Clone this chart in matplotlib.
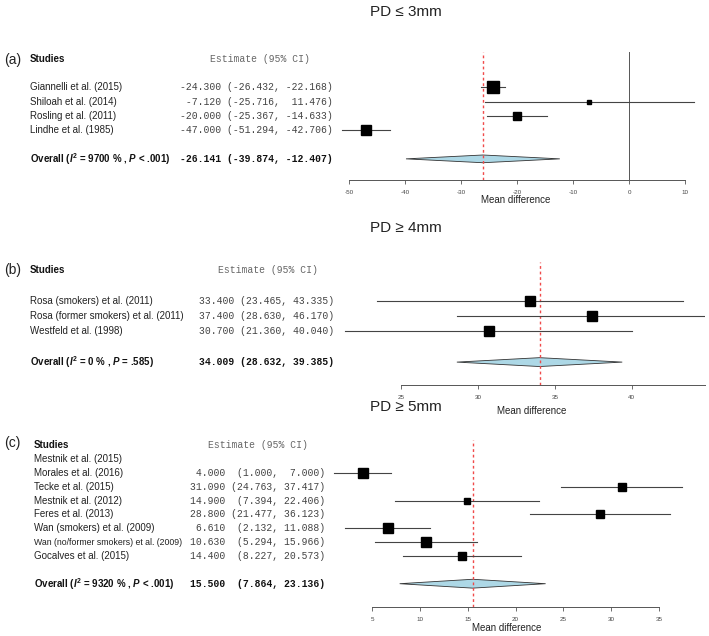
import matplotlib
matplotlib.use("Agg")
import matplotlib.pyplot as plt
import matplotlib.transforms as mtransforms

plt.rcParams['font.family'] = ['Liberation Sans', 'DejaVu Sans']
plt.rcParams['axes.unicode_minus'] = False
plt.rcParams['mathtext.fontset'] = 'custom'
plt.rcParams['mathtext.rm'] = 'Liberation Sans:bold'
plt.rcParams['mathtext.it'] = 'Liberation Sans:italic:bold'
plt.rcParams['mathtext.bf'] = 'Liberation Sans:bold'

# ---- data ----
titles = ["PD \u2264 3mm", "PD \u2265 4mm", "PD \u2265 5mm"]
tags = ["(a)", "(b)", "(c)"]

# (a) PD <= 3mm
studies_a = ["Giannelli et al. (2015)", "Shiloah et al. (2014)",
             "Rosling et al. (2011)", "Lindhe et al. (1985)"]
est_a = [-24.300, -7.120, -20.000, -47.000]
lo_a = [-26.432, -25.716, -25.367, -51.294]
hi_a = [-22.168, 11.476, -14.633, -42.706]
overall_a = [-26.141, -39.874, -12.407]
stats_a = "Overall ($I^2$ = 9700 % , $P$ < .001)"
ticks_a = [-50, -40, -30, -20, -10, 0, 10]

# (b) PD >= 4mm
studies_b = ["Rosa (smokers) et al. (2011)", "Rosa (former smokers) et al. (2011)",
             "Westfeld et al. (1998)"]
est_b = [33.400, 37.400, 30.700]
lo_b = [23.465, 28.630, 21.360]
hi_b = [43.335, 46.170, 40.040]
overall_b = [34.009, 28.632, 39.385]
stats_b = "Overall ($I^2$ = 0 % , $P$ = .585)"
ticks_b = [25, 30, 35, 40]

# (c) PD >= 5mm
studies_c = ["Mestnik et al. (2015)", "Morales et al. (2016)", "Tecke et al. (2015)",
             "Mestnik et al. (2012)", "Feres et al. (2013)", "Wan (smokers) et al. (2009)",
             "Wan (no/former smokers) et al. (2009)", "Gocalves et al. (2015)"]
est_c = [None, 4.000, 31.090, 14.900, 28.800, 6.610, 10.630, 14.400]
lo_c = [None, 1.000, 24.763, 7.394, 21.477, 2.132, 5.294, 8.227]
hi_c = [None, 7.000, 37.417, 22.406, 36.123, 11.088, 15.966, 20.573]
overall_c = [15.500, 7.864, 23.136]
stats_c = "Overall ($I^2$ = 9320 % , $P$ < .001)"
ticks_c = [5, 10, 15, 20, 25, 30, 35]

# ---- styling (pixel layout, square sizes) ----
W, H = 709, 636
sq_a = [8.1, 2.9, 5.8, 7.2]
sq_b = [6.7, 7.2, 6.9]
sq_c = [0, 7.9, 6.0, 5.0, 5.3, 7.2, 6.7, 5.3]
# the long label is squeezed in the original
name_size = {"Wan (no/former smokers) et al. (2009)": 6.3}

panels = [
    dict(studies=studies_a, est=est_a, lo=lo_a, hi=hi_a, overall=overall_a, stats=stats_a,
         ticks=ticks_a, sq=sq_a, tick_px=(349.3, 685.3), axis_end=10,
         row1=130.2, dy=14.33, ylim=(-2.5, 6.45), header=6, name_x=30,
         est_right=333, head_right=310, title_y=12, tag_y=60, xlab=(516, 200), dh=0.27),
    dict(studies=studies_b, est=est_b, lo=lo_b, hi=hi_b, overall=overall_b, stats=stats_b,
         ticks=ticks_b, sq=sq_b, tick_px=(401.0, 631.7), axis_end=45,
         row1=331.5, dy=15.3, ylim=(-2.5, 5.54), header=5, name_x=30,
         est_right=334, head_right=318, title_y=228, tag_y=270, xlab=(532, 411), dh=0.29),
    dict(studies=studies_c, est=est_c, lo=lo_c, hi=hi_c, overall=overall_c, stats=stats_c,
         ticks=ticks_c, sq=sq_c, tick_px=(372.3, 659.0), axis_end=35,
         row1=556, dy=13.85, ylim=(-2.68, 9.38), header=9, name_x=34,
         est_right=325, head_right=308, title_y=407, tag_y=443, xlab=(507, 628), dh=0.32),
]


def fmt_rows(est, lo, hi):
    e = ["" if v is None else f"{v:.3f}" for v in est]
    l = ["" if v is None else f"({v:.3f}," for v in lo]
    h = ["" if v is None else f"{v:.3f})" for v in hi]
    we, wl, wh = max(map(len, e)), max(map(len, l)), max(map(len, h))
    out = []
    for a, b, c in zip(e, l, h):
        out.append("" if a == "" else f"{a:>{we}} {b:>{wl}} {c:>{wh}}")
    return out


fig = plt.figure(figsize=(W / 100, H / 100), dpi=100)
ax_px = (330, 705)
mono = 'Liberation Mono'

for i, p in enumerate(panels):
    t0, t1 = p['ticks'][0], p['ticks'][-1]
    slope = (p['tick_px'][1] - p['tick_px'][0]) / (t1 - t0)
    xlim = (t0 + (ax_px[0] - p['tick_px'][0]) / slope, t0 + (ax_px[1] - p['tick_px'][0]) / slope)
    y0, y1 = p['ylim']
    bot_py = p['row1'] + (1 - y0) * p['dy']
    top_py = p['row1'] - (y1 - 1) * p['dy']
    ax = fig.add_axes([ax_px[0] / W, 1 - bot_py / H, (ax_px[1] - ax_px[0]) / W, (bot_py - top_py) / H])
    ax.set_facecolor('none')
    ax.set_xlim(xlim)
    ax.set_ylim(y0, y1)

    k = len(p['studies'])
    rows = list(range(k, 0, -1))
    labels = fmt_rows(p['est'] + [p['overall'][0]], p['lo'] + [p['overall'][1]],
                      p['hi'] + [p['overall'][2]])

    # reference lines
    if xlim[0] < 0 < xlim[1]:
        ax.axvline(0, color='#555555', lw=0.7)
    ax.axvline(p['overall'][0], color='#f04a4a', lw=1.0, ls=(0, (2, 2)))

    # study CIs and squares
    for r, e, lo, hi, s in zip(rows, p['est'], p['lo'], p['hi'], p['sq']):
        if e is None:
            continue
        ax.plot([lo, hi], [r, r], color='#444444', lw=0.8)
        ax.plot(e, r, marker='s', ms=s, color='black', mec='black')

    # summary diamond
    oe, ol, oh = p['overall']
    ax.fill([ol, oe, oh, oe], [-1, -1 + p['dh'], -1, -1 - p['dh']],
            facecolor='#add8e6', edgecolor='#333333', lw=0.6)

    # axis styling
    for s in ['top', 'right', 'left']:
        ax.spines[s].set_visible(False)
    ax.spines['bottom'].set_bounds(t0, min(p['axis_end'], xlim[1]))
    ax.spines['bottom'].set_color('#555555')
    ax.spines['bottom'].set_linewidth(0.7)
    ax.set_yticks([])
    ax.set_xticks(p['ticks'])
    ax.set_xticklabels([str(t) for t in p['ticks']])
    ax.tick_params(axis='x', direction='out', length=3, width=0.6, color='#555555',
                   labelsize=4.5, labelcolor='#444444', pad=4)
    fig.text(p['xlab'][0] / W, 1 - p['xlab'][1] / H, "Mean difference",
             ha='center', va='center', fontsize=7, color='#222222')

    # text columns
    tr = mtransforms.blended_transform_factory(fig.transFigure, ax.transData)
    nx = p['name_x'] / W
    ax.text(nx, p['header'], "Studies", transform=tr, ha='left', va='center',
            fontsize=7.0, fontweight='bold', color='#111111')
    ax.text(p['head_right'] / W, p['header'], "Estimate (95% CI)", transform=tr,
            ha='right', va='center', fontsize=7, family=mono, color='#666666')
    for r, name, lab in zip(rows, p['studies'], labels[:-1]):
        ax.text(nx, r, name, transform=tr, ha='left', va='center',
                fontsize=name_size.get(name, 7.0), color='#222222')
        if lab:
            ax.text(p['est_right'] / W, r, lab, transform=tr, ha='right', va='center',
                    fontsize=7, family=mono, color='#444444')
    ax.text(nx, -1, p['stats'], transform=tr, ha='left', va='center',
            fontsize=7.0, fontweight='bold', color='#111111')
    ax.text(p['est_right'] / W, -1, labels[-1], transform=tr, ha='right', va='center',
            fontsize=7, family=mono, fontweight='bold', color='#111111')

    # titles and panel tags
    fig.text(370 / W, 1 - p['title_y'] / H, titles[i], ha='left', va='center',
             fontsize=11, color='#222222')
    fig.text(4 / W, 1 - p['tag_y'] / H, tags[i], ha='left', va='center',
             fontsize=10, color='#222222')

fig.savefig("out.png", dpi=100)
